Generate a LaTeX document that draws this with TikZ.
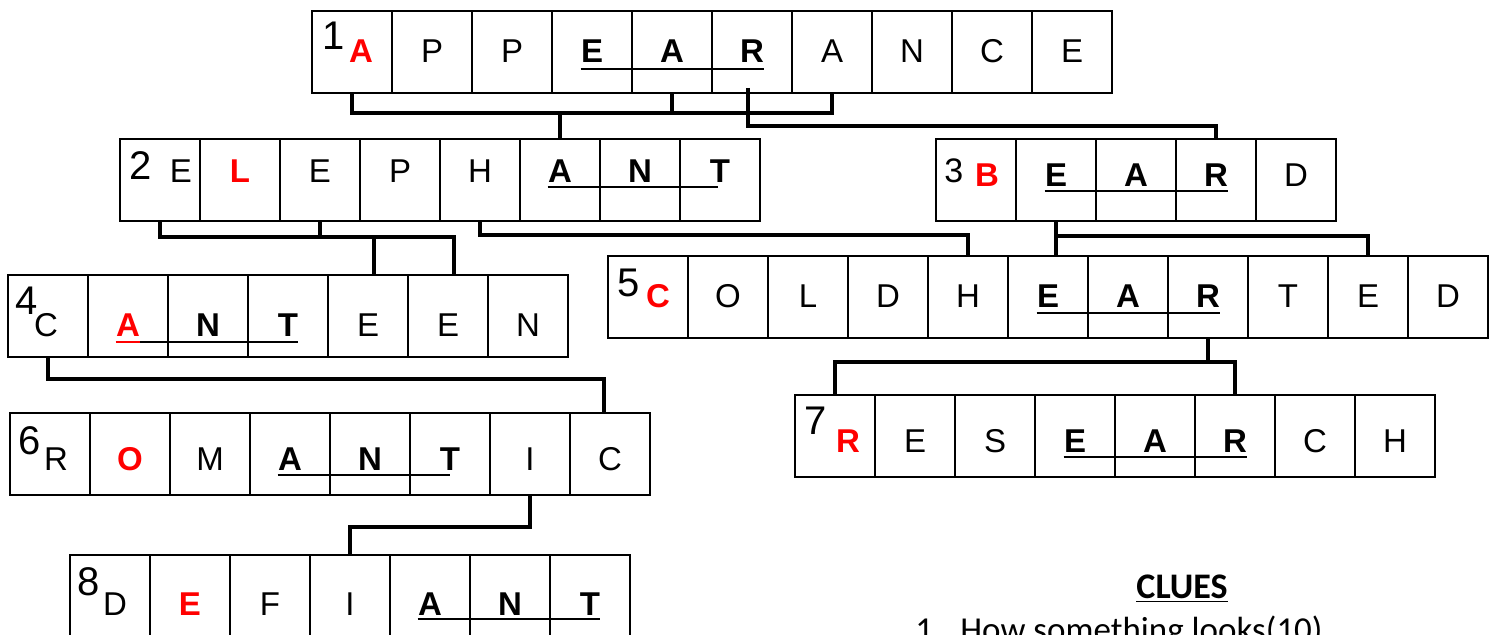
\documentclass[tikz,border=0pt]{standalone}
\usepackage{fontspec}
\setmainfont{Liberation Sans}
\newfontfamily\cluefont{Carlito}
\usetikzlibrary{calc}
\definecolor{keyred}{RGB}{255,0,0}

\tikzset{
  cell/.style={draw, line width=1pt, minimum width=40pt, minimum height=41pt, inner sep=0pt},
  lt/.style={anchor=base, inner sep=0pt, font=\fontsize{16.5}{16.5}\selectfont},
  ltb/.style={lt, font=\fontsize{16.5}{16.5}\selectfont\bfseries},
  ltkey/.style={ltb, text=keyred},
  num/.style={anchor=north west, inner sep=0pt, font=\fontsize{20}{20}\selectfont},
  link/.style={line width=2.4pt},
  uline/.style={line width=1.3pt},
  clue/.style={inner sep=0pt, font=\cluefont\fontsize{17.5}{17.5}\selectfont}
}

\begin{document}
\begin{tikzpicture}[x=0.5pt,y=-0.5pt]
\useasboundingbox (0,0) rectangle (1497,635);
\clip (0,0) rectangle (1497,635);

% 1 APPEARANCE
\foreach \i in {1,...,10} \node[cell] (app\i) at ({272+80*\i},52) {};
\node[num] (napp) at ([shift={(11,12)}]app1.north west) {1};
\node[ltkey] (tapp1) at ($(app1.center |- 0,63)+(9,0)$) {A};
\foreach \c/\s [count=\i from 2] in {P/lt,P/lt,E/ltb,A/ltb,R/ltb,A/lt,N/lt,C/lt,E/lt}
  \node[\s] (tapp\i) at (app\i.center |- 0,63) {\c};
\draw[uline] (tapp4.west |- 0,69) -- (tapp6.east |- 0,69);

% 2 ELEPHANT
\foreach \i in {1,...,8} \node[cell] (ele\i) at ({80+80*\i},180) {};
\node[num] (nele) at ([shift={(10,13)}]ele1.north west) {2};
\node[lt] (tele1) at ($(ele1.center |- 0,183)+(21,0)$) {E};
\foreach \c/\s [count=\i from 2] in {L/ltkey,E/lt,P/lt,H/lt,A/ltb,N/ltb,T/ltb}
  \node[\s] (tele\i) at (ele\i.center |- 0,183) {\c};
\draw[uline] (tele6.west |- 0,187) -- ($(tele8.east |- 0,187)+(-12,0)$);

% 3 BEARD
\foreach \i in {1,...,5} \node[cell] (bea\i) at ({896+80*\i},180) {};
\node[num, font=\fontsize{17}{17}\selectfont] (nbea) at ([shift={(9,20)}]bea1.north west) {3};
\node[ltkey] (tbea1) at ($(bea1.center |- 0,187)+(11,0)$) {B};
\foreach \c/\s [count=\i from 2] in {E/ltb,A/ltb,R/ltb,D/lt}
  \node[\s] (tbea\i) at (bea\i.center |- 0,187) {\c};
\draw[uline] (tbea2.west |- 0,191) -- (tbea4.east |- 0,191);

% 4 CANTEEN
\foreach \i in {1,...,7} \node[cell] (can\i) at ({-32+80*\i},316) {};
\node[num] (ncan) at ([shift={(8,13)}]can1.north west) {4};
\node[lt] (tcan1) at ($(can1.center |- 0,337)+(-2,0)$) {C};
\foreach \c/\s [count=\i from 2] in {A/ltkey,N/ltb,T/ltb,E/lt,E/lt,N/lt}
  \node[\s] (tcan\i) at (can\i.center |- 0,337) {\c};
\draw[uline, keyred] (tcan2.west |- 0,342) -- (tcan2.east |- 0,342);
\draw[uline] (tcan2.east |- 0,342) -- (tcan4.east |- 0,342);

% 5 COLDHEARTED
\foreach \i in {1,...,11} \node[cell] (col\i) at ({568+80*\i},297) {};
\node[num] (ncol) at ([shift={(10,14)}]col1.north west) {5};
\node[ltkey] (tcol1) at ($(col1.center |- 0,308)+(10,0)$) {C};
\foreach \c/\s [count=\i from 2] in {O/lt,L/lt,D/lt,H/lt,E/ltb,A/ltb,R/ltb,T/lt,E/lt,D/lt}
  \node[\s] (tcol\i) at (col\i.center |- 0,308) {\c};
\draw[uline] (tcol6.west |- 0,313) -- (tcol8.east |- 0,313);

% 6 ROMANTIC
\foreach \i in {1,...,8} \node[cell] (rom\i) at ({-30+80*\i},454) {};
\node[num] (nrom) at ([shift={(9,14)}]rom1.north west) {6};
\node[lt] (trom1) at ($(rom1.center |- 0,470)+(6,0)$) {R};
\foreach \c/\s [count=\i from 2] in {O/ltkey,M/lt,A/ltb,N/ltb,T/ltb,I/lt,C/lt}
  \node[\s] (trom\i) at (rom\i.center |- 0,470) {\c};
\draw[uline] (trom4.west |- 0,475) -- ($(trom6.east |- 0,475)+(-10,0)$);

% 7 RESEARCH
\foreach \i in {1,...,8} \node[cell] (res\i) at ({755+80*\i},436) {};
\node[num] (nres) at ([shift={(10,13)}]res1.north west) {7};
\node[ltkey] (tres1) at ($(res1.center |- 0,452)+(13,0)$) {R};
\foreach \c/\s [count=\i from 2] in {E/lt,S/lt,E/ltb,A/ltb,R/ltb,C/lt,H/lt}
  \node[\s] (tres\i) at (res\i.center |- 0,452) {\c};
\draw[uline] (tres4.west |- 0,457) -- (tres6.east |- 0,457);

% 8 DEFIANT
\foreach \i in {1,...,7} \node[cell] (def\i) at ({30+80*\i},596) {};
\node[num] (ndef) at ([shift={(8,13)}]def1.north west) {8};
\node[lt] (tdef1) at ($(def1.center |- 0,615)+(5,0)$) {D};
\foreach \c/\s [count=\i from 2] in {E/ltkey,F/lt,I/lt,A/ltb,N/ltb,T/ltb}
  \node[\s] (tdef\i) at (def\i.center |- 0,615) {\c};
\draw[uline] (tdef5.west |- 0,619) -- (tdef7.east |- 0,619);

% links between the words
\draw[link] (app1.south) -- (app1.south |- 0,113) -| (app7.south);
\draw[link] (app5.south) -- (app5.south |- 0,113);
\draw[link] (ele6.north) -- (ele6.north |- 0,113);
\draw[link] ([shift={(-4,-6)}]app6.south) |- (bea4.north |- 0,126) -- (bea4.north);
\draw[link] (ele1.south) -- (ele1.south |- 0,237) -| ([xshift=3pt]can6.north);
\draw[link] (ele3.south) -- (ele3.south |- 0,237);
\draw[link] ([xshift=3pt]can5.north) -- ([xshift=3pt]can5.north |- 0,237);
\draw[link] (ele5.south) |- (col5.north |- 0,235) -- (col5.north);
\draw[link] (bea2.south) -- (bea2.south |- col6.north);
\draw[link] (bea2.south |- 0,236) -| (col10.north);
\draw[link] (col8.south) -- (col8.south |- 0,362);
\draw[link] (res1.north) |- (res6.north |- 0,362) -- (res6.north);
\draw[link] (can1.south) |- ([xshift=-3pt]rom8.north |- 0,379) -- ([xshift=-3pt]rom8.north);
\draw[link] (rom7.south) |- (def4.north |- 0,527) -- (def4.north);

% clues
\node[clue, anchor=base, font=\cluefont\fontsize{18}{18}\selectfont\bfseries] (cluehead) at (1182,598) {\underline{CLUES}};
\node[clue, anchor=base west] (clueno) at (915,641) {1.};
\node[clue, anchor=base west] (clue1) at (960,641) {How something looks(10)};
\end{tikzpicture}
\end{document}
